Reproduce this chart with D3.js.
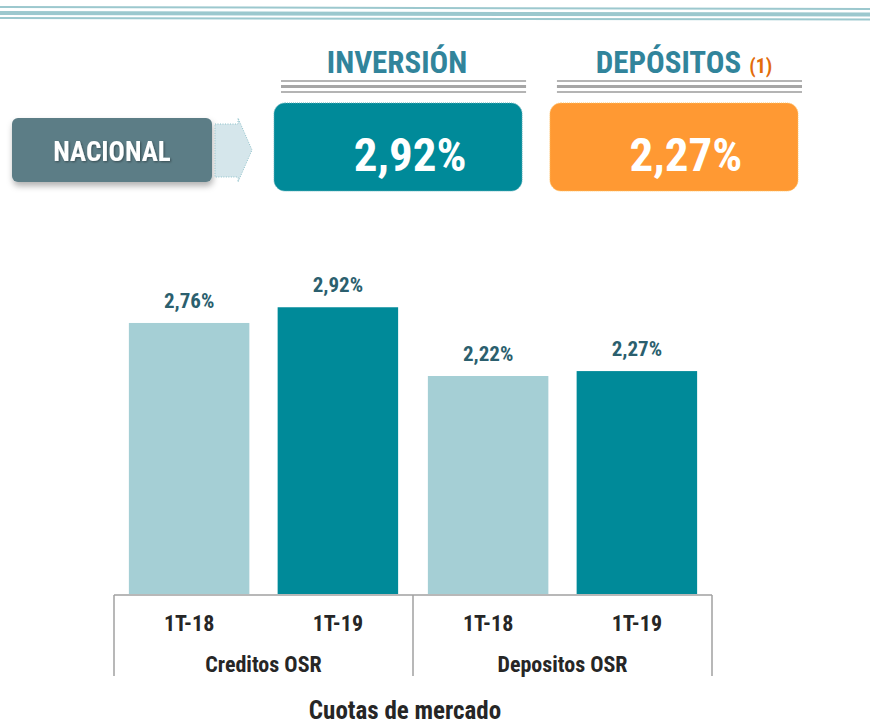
<!DOCTYPE html>
<html>
<head>
<meta charset="utf-8">
<script src="https://cdn.jsdelivr.net/npm/d3@7"></script>
<style>
  body { margin: 0; background: #fff; }
  svg { display: block; }
  text { font-family: "Liberation Sans Narrow", "Arial Narrow", "Roboto Condensed", sans-serif; font-weight: bold; }
</style>
</head>
<body>
<div id="chart"></div>
<script>
var width = 870;
var height = 726;

// data
var headlineLabels = ["INVERSIÓN", "DEPÓSITOS"];
var headlineValues = [2.92, 2.27];
var groups = ["Creditos OSR", "Depositos OSR"];
var periods = ["1T-18", "1T-19"];
var creditosOSR = [2.76, 2.92];
var depositosOSR = [2.22, 2.27];
var regionLabel = "NACIONAL";
var chartTitle = "Cuotas de mercado";

var series = [creditosOSR, depositosOSR];

var es = d3.formatLocale({ decimal: ",", thousands: ".", grouping: [3], currency: ["", "€"] });
var pct = function (d) { return es.format(".2f")(d) + "%"; };

var svg = d3.select("#chart").append("svg")
    .attr("width", width)
    .attr("height", height);

var defs = svg.append("defs");
var shadow = defs.append("filter").attr("id", "shadow")
    .attr("x", "-10%").attr("y", "-10%").attr("width", "130%").attr("height", "140%");
shadow.append("feDropShadow").attr("dx", 1).attr("dy", 4).attr("stdDeviation", 3)
    .attr("flood-color", "#000").attr("flood-opacity", 0.3);
var textShadow = defs.append("filter").attr("id", "tshadow");
textShadow.append("feDropShadow").attr("dx", 1).attr("dy", 1).attr("stdDeviation", 1)
    .attr("flood-color", "#000").attr("flood-opacity", 0.4);

// top stripes
var stripes = [[7, 9, 2], [13, 14.5, 4], [18, 19.5, 2]];
svg.selectAll(".stripe").data(stripes).enter().append("line")
    .attr("x1", 0).attr("x2", width)
    .attr("y1", d => d[0]).attr("y2", d => d[1])
    .attr("stroke", "#9cc8ce").attr("stroke-width", d => d[2]);

// region label box
svg.append("rect")
    .attr("x", 12).attr("y", 118).attr("width", 200).attr("height", 64)
    .attr("rx", 6)
    .attr("fill", "#5b7d86")
    .attr("filter", "url(#shadow)");
svg.append("text")
    .attr("x", 112).attr("y", 161)
    .attr("text-anchor", "middle")
    .attr("fill", "#fff")
    .attr("filter", "url(#tshadow)")
    .style("font-size", "27px")
    .text(regionLabel);

// arrow
svg.append("path")
    .attr("d", "M215,124 L238,124 L238,118 L252,150 L238,182 L238,177 L215,177 Z")
    .attr("fill", "#d5e6eb")
    .attr("stroke", "#8fc2ca")
    .attr("stroke-width", 1)
    .attr("stroke-dasharray", "1,1.5");

// headline boxes
var hx = d3.scaleBand().domain(headlineLabels).range([274, 798]).paddingInner(0.101);
var headColors = ["#008a99", "#ff9933"];

var head = svg.selectAll(".head").data(headlineLabels).enter().append("g").attr("class", "head");

head.append("rect")
    .attr("x", d => hx(d)).attr("y", 103)
    .attr("width", hx.bandwidth()).attr("height", 88)
    .attr("rx", 11)
    .attr("fill", (d, i) => headColors[i])
    .attr("stroke", (d, i) => i === 0 ? "#5fb0ba" : "#ffc060")
    .attr("stroke-width", 1)
    .attr("stroke-dasharray", "1,1");

head.append("text")
    .attr("x", d => hx(d) + hx.bandwidth() / 2 + 12)
    .attr("y", 171)
    .attr("text-anchor", "middle")
    .attr("fill", "#fff")
    .style("font-size", "47px")
    .text((d, i) => pct(headlineValues[i]));

// gray triple lines under titles
var grayLines = [[81, 2, "#b4b4b4"], [86.5, 3, "#a6a6a6"], [92, 2, "#b4b4b4"]];
head.each(function (d) {
    var g = d3.select(this);
    grayLines.forEach(function (l) {
        g.append("line")
            .attr("x1", hx(d) + 7).attr("x2", hx(d) + hx.bandwidth() + 4)
            .attr("y1", l[0]).attr("y2", l[0])
            .attr("stroke", l[2]).attr("stroke-width", l[1]);
    });
});

var titles = head.append("text")
    .attr("x", (d, i) => hx(d) + hx.bandwidth() / 2 + (i === 0 ? -1 : 10))
    .attr("y", 73)
    .attr("text-anchor", "middle")
    .attr("fill", "#31849b")
    .style("font-size", "31px")
    .text(d => d);
titles.filter((d, i) => i === 1).append("tspan")
    .attr("dx", 8)
    .attr("fill", "#e36c0a")
    .style("font-size", "20px")
    .text("(1)");

// bar chart
var baseY = 594;
var y = d3.scaleLinear().domain([0, 3]).range([baseY, baseY - 3 * 98.2]);
var x0 = d3.scaleBand().domain(groups).range([114, 712]);
var x1 = d3.scaleBand().domain(periods).range([0, x0.bandwidth()]).paddingInner(0.19).paddingOuter(0.1);
var barColors = d3.scaleOrdinal().domain(periods).range(["#a5cfd5", "#008a99"]);

var rows = [];
groups.forEach(function (g, gi) {
    periods.forEach(function (p, pi) {
        rows.push({ group: g, period: p, value: series[gi][pi] });
    });
});

var chartGroup = svg.append("g");

chartGroup.selectAll(".bar").data(rows).enter().append("rect")
    .attr("class", "bar")
    .attr("x", d => x0(d.group) + x1(d.period))
    .attr("y", d => y(d.value))
    .attr("width", x1.bandwidth())
    .attr("height", d => baseY - y(d.value))
    .attr("fill", d => barColors(d.period));

chartGroup.selectAll(".label").data(rows).enter().append("text")
    .attr("class", "label")
    .attr("x", d => x0(d.group) + x1(d.period) + x1.bandwidth() / 2)
    .attr("y", d => y(d.value) - 15)
    .attr("text-anchor", "middle")
    .attr("fill", "#2b5f6e")
    .style("font-size", "21px")
    .text(d => pct(d.value));

// axis
var axisY = 595;
svg.append("line")
    .attr("x1", x0.range()[0]).attr("x2", x0.range()[1])
    .attr("y1", axisY).attr("y2", axisY)
    .attr("stroke", "#a0a0a0").attr("stroke-width", 1.5);

var dividers = groups.map(g => x0(g)).concat([x0.range()[1]]);
svg.selectAll(".divider").data(dividers).enter().append("line")
    .attr("x1", d => d).attr("x2", d => d)
    .attr("y1", axisY).attr("y2", 676)
    .attr("stroke", "#a0a0a0").attr("stroke-width", 1.5);

svg.selectAll(".tick-label").data(rows).enter().append("text")
    .attr("x", d => x0(d.group) + x1(d.period) + x1.bandwidth() / 2)
    .attr("y", 631)
    .attr("text-anchor", "middle")
    .attr("fill", "#262626")
    .style("font-size", "22px")
    .text(d => d.period);

svg.selectAll(".group-label").data(groups).enter().append("text")
    .attr("x", d => x0(d) + x0.bandwidth() / 2)
    .attr("y", 672)
    .attr("text-anchor", "middle")
    .attr("fill", "#262626")
    .style("font-size", "22px")
    .text(d => d);

svg.append("text")
    .attr("x", 405)
    .attr("y", 719)
    .attr("text-anchor", "middle")
    .attr("fill", "#262626")
    .style("font-size", "25px")
    .text(chartTitle);
</script>
</body>
</html>
